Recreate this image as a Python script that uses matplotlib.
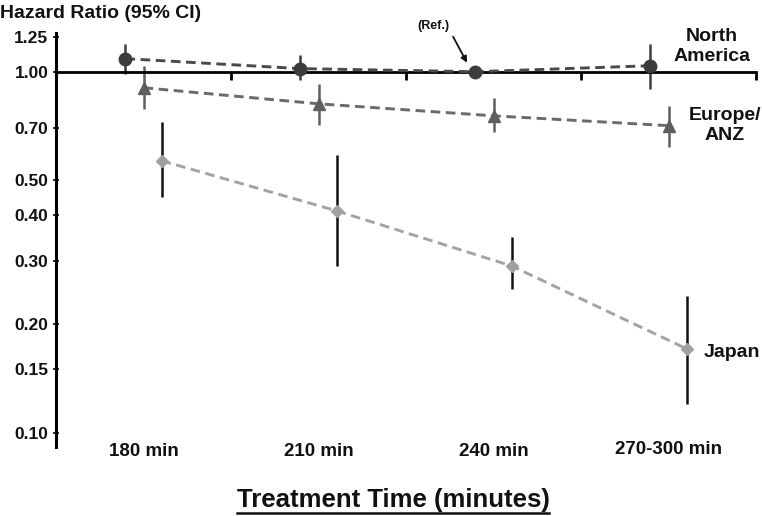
import matplotlib
matplotlib.use("Agg")
import matplotlib.pyplot as plt
import matplotlib.transforms as mtransforms
import numpy as np
from matplotlib.ticker import FixedLocator, NullLocator

plt.rcParams['font.family'] = ['Liberation Sans', 'DejaVu Sans']
plt.rcParams['font.weight'] = 'bold'

categories = ["180 min", "210 min", "240 min", "270-300 min"]
y_ticks = [0.10, 0.15, 0.20, 0.30, 0.40, 0.50, 0.70, 1.00, 1.25]

na_hr = [1.087, 1.02, 1.00, 1.039]
na_lo = [0.987, 0.95, 1.00, 0.897]
na_hi = [1.195, 1.11, 1.00, 1.195]

eu_hr = [0.903, 0.815, 0.755, 0.709]
eu_lo = [0.790, 0.713, 0.682, 0.620]
eu_hi = [1.039, 0.926, 0.847, 0.805]

jp_hr = [0.567, 0.412, 0.290, 0.171]
jp_lo = [0.450, 0.290, 0.251, 0.120]
jp_hi = [0.727, 0.589, 0.349, 0.240]

W, H = 762, 516
fig = plt.figure(figsize=(W/100, H/100), dpi=100)
ax = fig.add_axes([56/W, 1-447/H, 700/W, 414/H])
ax.set_yscale('log')
ax.set_ylim(0.0914, 1.28)
ax.set_xlim(-0.5, 3.5)

x = np.arange(len(categories))

def series(xs, hr, lo, hi, marker, mcolor, lcolor, ecolor, ms):
    hr = np.array(hr); lo = np.array(lo); hi = np.array(hi)
    ax.errorbar(xs, hr, yerr=[hr - lo, hi - hr], fmt='none',
                ecolor=ecolor, elinewidth=1.8, capsize=0, zorder=2)
    ax.plot(xs, hr, linestyle=(0, (3.3, 1.9)), color=lcolor, linewidth=2.1, zorder=3)
    ax.plot(xs, hr, linestyle='none', marker=marker, color=mcolor, markersize=ms, zorder=4)

series(x - 0.103, na_hr, na_lo, na_hi, 'o', '#3c3c3c', '#4a4a4a', '#3c3c3c', 9)
series(x, eu_hr, eu_lo, eu_hi, '^', '#5e5e5e', '#6a6a6a', '#5e5e5e', 8.5)
series(x + 0.103, jp_hr, jp_lo, jp_hi, 'D', '#a0a0a0', '#a3a3a3', '#111111', 6.5)

# axes styling
for s in ['top', 'right']:
    ax.spines[s].set_visible(False)
ax.spines['left'].set_linewidth(2.2)
ax.spines['bottom'].set_position(('data', 1.0))
ax.spines['bottom'].set_linewidth(2.0)
ax.xaxis.set_major_locator(FixedLocator([0.5, 1.5, 2.5, 3.5]))
ax.xaxis.set_minor_locator(NullLocator())
ax.tick_params(axis='x', direction='out', length=6, width=2, labelbottom=False)
ax.yaxis.set_major_locator(FixedLocator(y_ticks))
ax.yaxis.set_minor_locator(NullLocator())
ax.set_yticklabels([f"{v:.2f}" for v in y_ticks], fontsize=12.5, fontweight='bold', color='#111111')
ax.tick_params(axis='y', direction='inout', length=5, width=1.2, pad=3)

# category labels (centred under each category)
blend = mtransforms.blended_transform_factory(ax.transData, fig.transFigure)
label_y = [451, 452, 452, 449]
for i, (lab, py) in enumerate(zip(categories, label_y)):
    ax.text(x[i], 1-py/H, lab, transform=blend, clip_on=False,
            ha='center', va='center', fontsize=13.5, fontweight='bold', color='#111111')

# y title
fig.text(0, 1-13/H, "Hazard Ratio (95% CI)", ha='left', va='center', fontsize=14, fontweight='bold', color='#111111')

# x title with underline
t = fig.text(393/W, 1-507/H, "Treatment Time (minutes)", ha='center', va='baseline', fontsize=18.5, fontweight='bold', color='#111111')
fig.canvas.draw()
bb = t.get_window_extent()
yline = 1 - 513/H
fig.add_artist(plt.Line2D([bb.x0/W, bb.x1/W], [yline, yline], transform=fig.transFigure, color='#111111', linewidth=1.8))

# group labels
ax.text(3.25, 1.177, "North\nAmerica", ha='center', va='center', fontsize=14, fontweight='bold', color='#111111', linespacing=1.25, clip_on=False)
ax.text(3.32, 0.709, "Europe/\nANZ", ha='center', va='center', fontsize=14, fontweight='bold', color='#111111', linespacing=1.2)
ax.text(3.20, 0.167, "Japan", ha='left', va='center', fontsize=14, fontweight='bold', color='#111111')

# Ref annotation
ax.text(1.654, 1.34, "(Ref.)", ha='center', va='center', fontsize=9, fontweight='bold', color='#111111', clip_on=False)
ax.annotate("", xy=(1.849, 1.059), xytext=(1.769, 1.25), annotation_clip=False,
            arrowprops=dict(arrowstyle='-|>', color='#111111', lw=1.3, mutation_scale=9, shrinkA=0, shrinkB=0))

fig.savefig("out.png", dpi=100)
